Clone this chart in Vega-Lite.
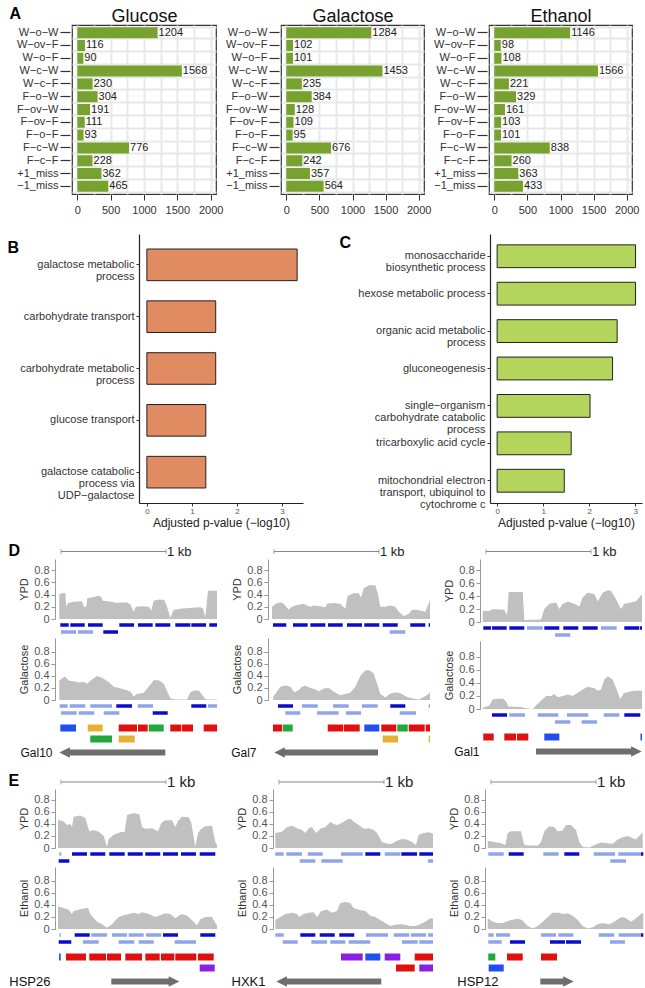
{
"$schema": "https://vega.github.io/schema/vega-lite/v6.json",
"padding": {"left": 6, "top": 4, "right": 0, "bottom": 0},
"config": {"font": "Liberation Sans", "view": {"stroke": "transparent"}, "axis": {"titleFontWeight": "normal"}, "title": {"fontWeight": "normal"}},
"datasets": {
"spacer": [{"v":0}],
"counts": [
{"medium":"Glucose","cls":"W−o−W","n":1204},{"medium":"Glucose","cls":"W−ov−F","n":116},{"medium":"Glucose","cls":"W−o−F","n":90},{"medium":"Glucose","cls":"W−c−W","n":1568},{"medium":"Glucose","cls":"W−c−F","n":230},{"medium":"Glucose","cls":"F−o−W","n":304},{"medium":"Glucose","cls":"F−ov−W","n":191},{"medium":"Glucose","cls":"F−ov−F","n":111},{"medium":"Glucose","cls":"F−o−F","n":93},{"medium":"Glucose","cls":"F−c−W","n":776},{"medium":"Glucose","cls":"F−c−F","n":228},{"medium":"Glucose","cls":"+1_miss","n":362},{"medium":"Glucose","cls":"−1_miss","n":465},
{"medium":"Galactose","cls":"W−o−W","n":1284},{"medium":"Galactose","cls":"W−ov−F","n":102},{"medium":"Galactose","cls":"W−o−F","n":101},{"medium":"Galactose","cls":"W−c−W","n":1453},{"medium":"Galactose","cls":"W−c−F","n":235},{"medium":"Galactose","cls":"F−o−W","n":384},{"medium":"Galactose","cls":"F−ov−W","n":128},{"medium":"Galactose","cls":"F−ov−F","n":109},{"medium":"Galactose","cls":"F−o−F","n":95},{"medium":"Galactose","cls":"F−c−W","n":676},{"medium":"Galactose","cls":"F−c−F","n":242},{"medium":"Galactose","cls":"+1_miss","n":357},{"medium":"Galactose","cls":"−1_miss","n":564},
{"medium":"Ethanol","cls":"W−o−W","n":1146},{"medium":"Ethanol","cls":"W−ov−F","n":98},{"medium":"Ethanol","cls":"W−o−F","n":108},{"medium":"Ethanol","cls":"W−c−W","n":1566},{"medium":"Ethanol","cls":"W−c−F","n":221},{"medium":"Ethanol","cls":"F−o−W","n":329},{"medium":"Ethanol","cls":"F−ov−W","n":161},{"medium":"Ethanol","cls":"F−ov−F","n":103},{"medium":"Ethanol","cls":"F−o−F","n":101},{"medium":"Ethanol","cls":"F−c−W","n":838},{"medium":"Ethanol","cls":"F−c−F","n":260},{"medium":"Ethanol","cls":"+1_miss","n":363},{"medium":"Ethanol","cls":"−1_miss","n":433}
],
"goB": [{"term":"galactose metabolic|process","p":3.34},{"term":"carbohydrate transport","p":1.53},{"term":"carbohydrate metabolic|process","p":1.53},{"term":"glucose transport","p":1.31},{"term":"galactose catabolic|process via|UDP−galactose","p":1.31}],
"goC": [{"term":"monosaccharide|biosynthetic process","p":3.01},{"term":"hexose metabolic process","p":3.01},{"term":"organic acid metabolic|process","p":2.61},{"term":"gluconeogenesis","p":2.51},{"term":"single−organism|carbohydrate catabolic|process","p":2.02},{"term":"tricarboxylic acid cycle","p":1.61},{"term":"mitochondrial electron|transport, ubiquinol to|cytochrome c","p":1.46}],
"scalebar": [{"s":60,"e":1110,"lab":"1 kb"}],
"cov_Gal10_YPD": [{"pos":43,"val":0.41},{"pos":103,"val":0.43},{"pos":113,"val":0.2},{"pos":130,"val":0.26},{"pos":187,"val":0.28},{"pos":270,"val":0.29},{"pos":290,"val":0.2},{"pos":313,"val":0.2},{"pos":323,"val":0.34},{"pos":387,"val":0.36},{"pos":437,"val":0.38},{"pos":463,"val":0.36},{"pos":477,"val":0.3},{"pos":537,"val":0.29},{"pos":620,"val":0.26},{"pos":643,"val":0.27},{"pos":720,"val":0.27},{"pos":753,"val":0.24},{"pos":787,"val":0.12},{"pos":810,"val":0.2},{"pos":870,"val":0.21},{"pos":937,"val":0.2},{"pos":963,"val":0.14},{"pos":987,"val":0.3},{"pos":1037,"val":0.32},{"pos":1093,"val":0.31},{"pos":1120,"val":0.2},{"pos":1153,"val":0.02},{"pos":1187,"val":0.15},{"pos":1270,"val":0.17},{"pos":1337,"val":0.18},{"pos":1453,"val":0.19},{"pos":1480,"val":0.17},{"pos":1503,"val":0.03},{"pos":1530,"val":0.46},{"pos":1620,"val":0.46}],
"cov_Gal10_Gal": [{"pos":43,"val":0.32},{"pos":70,"val":0.36},{"pos":103,"val":0.39},{"pos":137,"val":0.32},{"pos":187,"val":0.31},{"pos":237,"val":0.29},{"pos":287,"val":0.3},{"pos":320,"val":0.27},{"pos":370,"val":0.34},{"pos":420,"val":0.4},{"pos":470,"val":0.37},{"pos":537,"val":0.3},{"pos":587,"val":0.22},{"pos":637,"val":0.2},{"pos":703,"val":0.17},{"pos":753,"val":0.14},{"pos":787,"val":0.06},{"pos":820,"val":0.1},{"pos":887,"val":0.12},{"pos":937,"val":0.22},{"pos":987,"val":0.33},{"pos":1037,"val":0.33},{"pos":1087,"val":0.27},{"pos":1120,"val":0.15},{"pos":1153,"val":0.03},{"pos":1203,"val":0.01},{"pos":1320,"val":0.01},{"pos":1353,"val":0.13},{"pos":1397,"val":0.16},{"pos":1443,"val":0.15},{"pos":1477,"val":0.07},{"pos":1510,"val":0.01},{"pos":1620,"val":0.01}],
"cov_Gal7_YPD": [{"pos":40,"val":0.2},{"pos":90,"val":0.26},{"pos":140,"val":0.27},{"pos":173,"val":0.22},{"pos":207,"val":0.15},{"pos":240,"val":0.2},{"pos":290,"val":0.23},{"pos":357,"val":0.25},{"pos":390,"val":0.22},{"pos":423,"val":0.2},{"pos":457,"val":0.22},{"pos":523,"val":0.21},{"pos":573,"val":0.19},{"pos":590,"val":0.25},{"pos":657,"val":0.26},{"pos":723,"val":0.25},{"pos":750,"val":0.2},{"pos":773,"val":0.17},{"pos":797,"val":0.38},{"pos":857,"val":0.42},{"pos":907,"val":0.42},{"pos":930,"val":0.35},{"pos":957,"val":0.5},{"pos":1007,"val":0.55},{"pos":1073,"val":0.55},{"pos":1097,"val":0.42},{"pos":1123,"val":0.2},{"pos":1173,"val":0.2},{"pos":1223,"val":0.22},{"pos":1273,"val":0.2},{"pos":1307,"val":0.12},{"pos":1357,"val":0.05},{"pos":1407,"val":0.08},{"pos":1440,"val":0.15},{"pos":1490,"val":0.15},{"pos":1540,"val":0.13},{"pos":1573,"val":0.12},{"pos":1607,"val":0.25},{"pos":1620,"val":0.33}],
"cov_Gal7_Gal": [{"pos":50,"val":0.05},{"pos":73,"val":0.1},{"pos":123,"val":0.22},{"pos":173,"val":0.24},{"pos":223,"val":0.22},{"pos":263,"val":0.13},{"pos":307,"val":0.16},{"pos":340,"val":0.22},{"pos":373,"val":0.24},{"pos":423,"val":0.2},{"pos":473,"val":0.18},{"pos":507,"val":0.14},{"pos":557,"val":0.19},{"pos":607,"val":0.2},{"pos":657,"val":0.14},{"pos":723,"val":0.08},{"pos":773,"val":0.1},{"pos":823,"val":0.12},{"pos":873,"val":0.22},{"pos":923,"val":0.4},{"pos":973,"val":0.49},{"pos":1007,"val":0.5},{"pos":1057,"val":0.44},{"pos":1090,"val":0.28},{"pos":1123,"val":0.1},{"pos":1173,"val":0.04},{"pos":1223,"val":0.11},{"pos":1290,"val":0.13},{"pos":1340,"val":0.1},{"pos":1390,"val":0.05},{"pos":1457,"val":0.02},{"pos":1507,"val":0.01},{"pos":1557,"val":0.05},{"pos":1607,"val":0.1},{"pos":1620,"val":0.14}],
"cov_Gal1_YPD": [{"pos":27,"val":0.17},{"pos":93,"val":0.17},{"pos":127,"val":0.2},{"pos":243,"val":0.19},{"pos":270,"val":0.1},{"pos":287,"val":0.46},{"pos":427,"val":0.46},{"pos":443,"val":0.03},{"pos":610,"val":0.04},{"pos":643,"val":0.2},{"pos":693,"val":0.28},{"pos":760,"val":0.3},{"pos":793,"val":0.2},{"pos":827,"val":0.28},{"pos":877,"val":0.31},{"pos":943,"val":0.28},{"pos":993,"val":0.24},{"pos":1027,"val":0.38},{"pos":1077,"val":0.45},{"pos":1143,"val":0.43},{"pos":1177,"val":0.32},{"pos":1227,"val":0.45},{"pos":1277,"val":0.49},{"pos":1310,"val":0.48},{"pos":1360,"val":0.35},{"pos":1410,"val":0.2},{"pos":1443,"val":0.28},{"pos":1510,"val":0.3},{"pos":1560,"val":0.32},{"pos":1593,"val":0.38},{"pos":1610,"val":0.42},{"pos":1620,"val":0.4}],
"cov_Gal1_Gal": [{"pos":27,"val":0.02},{"pos":93,"val":0.05},{"pos":127,"val":0.15},{"pos":227,"val":0.16},{"pos":260,"val":0.12},{"pos":283,"val":0.04},{"pos":410,"val":0.03},{"pos":460,"val":0.01},{"pos":527,"val":0.0},{"pos":577,"val":0.08},{"pos":627,"val":0.15},{"pos":660,"val":0.2},{"pos":710,"val":0.2},{"pos":743,"val":0.23},{"pos":777,"val":0.18},{"pos":827,"val":0.2},{"pos":877,"val":0.22},{"pos":927,"val":0.2},{"pos":977,"val":0.25},{"pos":1027,"val":0.3},{"pos":1077,"val":0.34},{"pos":1110,"val":0.33},{"pos":1143,"val":0.32},{"pos":1177,"val":0.28},{"pos":1210,"val":0.3},{"pos":1243,"val":0.45},{"pos":1277,"val":0.5},{"pos":1327,"val":0.45},{"pos":1360,"val":0.32},{"pos":1403,"val":0.15},{"pos":1437,"val":0.24},{"pos":1510,"val":0.27},{"pos":1560,"val":0.28},{"pos":1620,"val":0.28}],
"cov_HSP26_YPD": [{"pos":30,"val":0.47},{"pos":87,"val":0.44},{"pos":120,"val":0.38},{"pos":153,"val":0.4},{"pos":170,"val":0.35},{"pos":187,"val":0.52},{"pos":253,"val":0.54},{"pos":303,"val":0.5},{"pos":343,"val":0.28},{"pos":387,"val":0.3},{"pos":437,"val":0.27},{"pos":487,"val":0.2},{"pos":520,"val":0.02},{"pos":537,"val":0.15},{"pos":587,"val":0.22},{"pos":653,"val":0.26},{"pos":697,"val":0.27},{"pos":720,"val":0.55},{"pos":787,"val":0.58},{"pos":843,"val":0.56},{"pos":870,"val":0.35},{"pos":903,"val":0.32},{"pos":970,"val":0.33},{"pos":1030,"val":0.28},{"pos":1063,"val":0.42},{"pos":1103,"val":0.46},{"pos":1170,"val":0.46},{"pos":1203,"val":0.35},{"pos":1230,"val":0.45},{"pos":1270,"val":0.52},{"pos":1337,"val":0.51},{"pos":1363,"val":0.42},{"pos":1403,"val":0.02},{"pos":1430,"val":0.25},{"pos":1463,"val":0.32},{"pos":1503,"val":0.36},{"pos":1570,"val":0.37},{"pos":1603,"val":0.1},{"pos":1620,"val":0.05}],
"cov_HSP26_Eth": [{"pos":30,"val":0.38},{"pos":87,"val":0.35},{"pos":137,"val":0.32},{"pos":170,"val":0.25},{"pos":187,"val":0.3},{"pos":237,"val":0.32},{"pos":287,"val":0.34},{"pos":330,"val":0.35},{"pos":353,"val":0.25},{"pos":420,"val":0.12},{"pos":470,"val":0.08},{"pos":520,"val":0.02},{"pos":570,"val":0.08},{"pos":637,"val":0.2},{"pos":687,"val":0.23},{"pos":737,"val":0.25},{"pos":787,"val":0.27},{"pos":837,"val":0.25},{"pos":870,"val":0.28},{"pos":937,"val":0.25},{"pos":1003,"val":0.2},{"pos":1053,"val":0.23},{"pos":1103,"val":0.26},{"pos":1153,"val":0.25},{"pos":1203,"val":0.18},{"pos":1237,"val":0.22},{"pos":1270,"val":0.25},{"pos":1320,"val":0.22},{"pos":1370,"val":0.15},{"pos":1420,"val":0.06},{"pos":1453,"val":0.16},{"pos":1503,"val":0.2},{"pos":1570,"val":0.2},{"pos":1620,"val":0.06}],
"cov_HXK1_YPD": [{"pos":23,"val":0.25},{"pos":90,"val":0.27},{"pos":140,"val":0.35},{"pos":190,"val":0.37},{"pos":240,"val":0.33},{"pos":290,"val":0.3},{"pos":323,"val":0.25},{"pos":357,"val":0.33},{"pos":390,"val":0.35},{"pos":430,"val":0.25},{"pos":473,"val":0.32},{"pos":523,"val":0.35},{"pos":573,"val":0.43},{"pos":607,"val":0.4},{"pos":640,"val":0.38},{"pos":690,"val":0.42},{"pos":740,"val":0.47},{"pos":773,"val":0.49},{"pos":807,"val":0.44},{"pos":857,"val":0.38},{"pos":907,"val":0.32},{"pos":957,"val":0.33},{"pos":1007,"val":0.3},{"pos":1040,"val":0.25},{"pos":1090,"val":0.1},{"pos":1140,"val":0.07},{"pos":1190,"val":0.07},{"pos":1240,"val":0.12},{"pos":1290,"val":0.15},{"pos":1340,"val":0.14},{"pos":1390,"val":0.1},{"pos":1430,"val":0.05},{"pos":1457,"val":0.22},{"pos":1507,"val":0.25},{"pos":1557,"val":0.26},{"pos":1600,"val":0.24}],
"cov_HXK1_Eth": [{"pos":23,"val":0.15},{"pos":73,"val":0.2},{"pos":123,"val":0.25},{"pos":190,"val":0.27},{"pos":240,"val":0.25},{"pos":263,"val":0.2},{"pos":307,"val":0.25},{"pos":357,"val":0.27},{"pos":407,"val":0.28},{"pos":440,"val":0.2},{"pos":483,"val":0.3},{"pos":540,"val":0.32},{"pos":590,"val":0.27},{"pos":640,"val":0.3},{"pos":673,"val":0.43},{"pos":723,"val":0.45},{"pos":773,"val":0.43},{"pos":807,"val":0.35},{"pos":857,"val":0.32},{"pos":923,"val":0.3},{"pos":973,"val":0.22},{"pos":1023,"val":0.2},{"pos":1073,"val":0.15},{"pos":1123,"val":0.1},{"pos":1173,"val":0.05},{"pos":1223,"val":0.07},{"pos":1273,"val":0.08},{"pos":1323,"val":0.07},{"pos":1373,"val":0.05},{"pos":1423,"val":0.05},{"pos":1473,"val":0.08},{"pos":1523,"val":0.12},{"pos":1573,"val":0.18},{"pos":1600,"val":0.17}],
"cov_HSP12_YPD": [{"pos":27,"val":0.12},{"pos":93,"val":0.1},{"pos":160,"val":0.08},{"pos":203,"val":0.05},{"pos":227,"val":0.25},{"pos":260,"val":0.28},{"pos":360,"val":0.28},{"pos":393,"val":0.05},{"pos":443,"val":0.04},{"pos":527,"val":0.04},{"pos":560,"val":0.1},{"pos":593,"val":0.28},{"pos":643,"val":0.36},{"pos":693,"val":0.35},{"pos":727,"val":0.28},{"pos":777,"val":0.29},{"pos":810,"val":0.38},{"pos":860,"val":0.38},{"pos":910,"val":0.3},{"pos":943,"val":0.1},{"pos":977,"val":0.02},{"pos":1043,"val":0.01},{"pos":1093,"val":0.05},{"pos":1160,"val":0.09},{"pos":1227,"val":0.08},{"pos":1277,"val":0.07},{"pos":1327,"val":0.14},{"pos":1377,"val":0.18},{"pos":1427,"val":0.2},{"pos":1477,"val":0.16},{"pos":1510,"val":0.14},{"pos":1543,"val":0.2},{"pos":1577,"val":0.26}],
"cov_HSP12_Eth": [{"pos":27,"val":0.18},{"pos":77,"val":0.12},{"pos":127,"val":0.1},{"pos":177,"val":0.1},{"pos":210,"val":0.12},{"pos":260,"val":0.15},{"pos":327,"val":0.17},{"pos":370,"val":0.15},{"pos":427,"val":0.05},{"pos":477,"val":0.01},{"pos":527,"val":0.05},{"pos":577,"val":0.12},{"pos":627,"val":0.2},{"pos":677,"val":0.27},{"pos":743,"val":0.27},{"pos":777,"val":0.25},{"pos":827,"val":0.26},{"pos":877,"val":0.22},{"pos":927,"val":0.15},{"pos":977,"val":0.05},{"pos":1027,"val":0.01},{"pos":1077,"val":0.03},{"pos":1127,"val":0.08},{"pos":1177,"val":0.1},{"pos":1243,"val":0.08},{"pos":1293,"val":0.12},{"pos":1343,"val":0.18},{"pos":1377,"val":0.2},{"pos":1410,"val":0.18},{"pos":1460,"val":0.12},{"pos":1510,"val":0.18},{"pos":1560,"val":0.25},{"pos":1583,"val":0.27}],
"nuc_Gal10_YPD": [{"lane":1,"s":53,"e":137,"kind":"dark"},{"lane":1,"s":153,"e":297,"kind":"dark"},{"lane":1,"s":330,"e":477,"kind":"dark"},{"lane":1,"s":643,"e":790,"kind":"dark"},{"lane":1,"s":830,"e":977,"kind":"dark"},{"lane":1,"s":1003,"e":1153,"kind":"dark"},{"lane":1,"s":1203,"e":1353,"kind":"dark"},{"lane":1,"s":1363,"e":1510,"kind":"dark"},{"lane":1,"s":1543,"e":1620,"kind":"dark"},{"lane":2,"s":60,"e":210,"kind":"light"},{"lane":2,"s":230,"e":380,"kind":"light"},{"lane":2,"s":483,"e":630,"kind":"dark"}],
"nuc_Gal10_Gal": [{"lane":1,"s":47,"e":127,"kind":"light"},{"lane":1,"s":147,"e":303,"kind":"light"},{"lane":1,"s":353,"e":570,"kind":"light"},{"lane":1,"s":613,"e":770,"kind":"dark"},{"lane":1,"s":827,"e":980,"kind":"light"},{"lane":1,"s":1363,"e":1513,"kind":"dark"},{"lane":1,"s":1530,"e":1620,"kind":"light"},{"lane":2,"s":60,"e":217,"kind":"light"},{"lane":2,"s":237,"e":393,"kind":"light"},{"lane":2,"s":487,"e":643,"kind":"light"},{"lane":2,"s":977,"e":1127,"kind":"dark"}],
"nuc_Gal7_YPD": [{"lane":1,"s":50,"e":183,"kind":"dark"},{"lane":1,"s":250,"e":397,"kind":"dark"},{"lane":1,"s":423,"e":573,"kind":"dark"},{"lane":1,"s":600,"e":747,"kind":"dark"},{"lane":1,"s":790,"e":940,"kind":"dark"},{"lane":1,"s":963,"e":1113,"kind":"dark"},{"lane":1,"s":1147,"e":1297,"kind":"dark"},{"lane":1,"s":1423,"e":1573,"kind":"dark"},{"lane":1,"s":1607,"e":1620,"kind":"dark"},{"lane":2,"s":1217,"e":1373,"kind":"light"}],
"nuc_Gal7_Gal": [{"lane":1,"s":100,"e":250,"kind":"dark"},{"lane":1,"s":340,"e":497,"kind":"light"},{"lane":1,"s":650,"e":807,"kind":"light"},{"lane":1,"s":940,"e":1097,"kind":"light"},{"lane":1,"s":1223,"e":1373,"kind":"dark"},{"lane":1,"s":1607,"e":1620,"kind":"light"},{"lane":2,"s":173,"e":323,"kind":"light"},{"lane":2,"s":490,"e":707,"kind":"light"},{"lane":2,"s":780,"e":930,"kind":"light"},{"lane":2,"s":1317,"e":1480,"kind":"light"}],
"nuc_Gal1_YPD": [{"lane":1,"s":33,"e":110,"kind":"dark"},{"lane":1,"s":120,"e":267,"kind":"dark"},{"lane":1,"s":293,"e":443,"kind":"dark"},{"lane":1,"s":470,"e":627,"kind":"light"},{"lane":1,"s":643,"e":793,"kind":"dark"},{"lane":1,"s":833,"e":983,"kind":"dark"},{"lane":1,"s":1027,"e":1177,"kind":"dark"},{"lane":1,"s":1210,"e":1367,"kind":"light"},{"lane":1,"s":1443,"e":1593,"kind":"dark"},{"lane":1,"s":1600,"e":1620,"kind":"dark"},{"lane":2,"s":750,"e":903,"kind":"light"}],
"nuc_Gal1_Gal": [{"lane":1,"s":120,"e":270,"kind":"dark"},{"lane":1,"s":293,"e":450,"kind":"light"},{"lane":1,"s":577,"e":783,"kind":"light"},{"lane":1,"s":870,"e":1083,"kind":"light"},{"lane":1,"s":1237,"e":1393,"kind":"light"},{"lane":1,"s":1443,"e":1603,"kind":"dark"},{"lane":2,"s":750,"e":903,"kind":"light"},{"lane":2,"s":1017,"e":1170,"kind":"light"}],
"nuc_HSP26_YPD": [{"lane":1,"s":43,"e":63,"kind":"light"},{"lane":1,"s":170,"e":320,"kind":"dark"},{"lane":1,"s":353,"e":503,"kind":"dark"},{"lane":1,"s":543,"e":697,"kind":"dark"},{"lane":1,"s":727,"e":877,"kind":"dark"},{"lane":1,"s":903,"e":1053,"kind":"dark"},{"lane":1,"s":1080,"e":1230,"kind":"dark"},{"lane":1,"s":1260,"e":1410,"kind":"dark"},{"lane":1,"s":1447,"e":1603,"kind":"dark"},{"lane":2,"s":37,"e":143,"kind":"dark"}],
"nuc_HSP26_Eth": [{"lane":1,"s":43,"e":57,"kind":"light"},{"lane":1,"s":197,"e":347,"kind":"dark"},{"lane":1,"s":363,"e":520,"kind":"light"},{"lane":1,"s":570,"e":720,"kind":"light"},{"lane":1,"s":737,"e":887,"kind":"light"},{"lane":1,"s":910,"e":1063,"kind":"light"},{"lane":1,"s":1080,"e":1230,"kind":"dark"},{"lane":1,"s":1453,"e":1603,"kind":"dark"},{"lane":2,"s":37,"e":163,"kind":"dark"},{"lane":2,"s":280,"e":437,"kind":"light"},{"lane":2,"s":637,"e":793,"kind":"light"},{"lane":2,"s":837,"e":987,"kind":"light"},{"lane":2,"s":1197,"e":1410,"kind":"light"}],
"nuc_HXK1_YPD": [{"lane":1,"s":23,"e":107,"kind":"light"},{"lane":1,"s":133,"e":290,"kind":"light"},{"lane":1,"s":347,"e":497,"kind":"light"},{"lane":1,"s":680,"e":897,"kind":"light"},{"lane":1,"s":923,"e":1073,"kind":"dark"},{"lane":1,"s":1117,"e":1273,"kind":"light"},{"lane":1,"s":1283,"e":1440,"kind":"dark"},{"lane":1,"s":1463,"e":1600,"kind":"dark"},{"lane":2,"s":267,"e":423,"kind":"light"},{"lane":2,"s":483,"e":697,"kind":"light"},{"lane":2,"s":1550,"e":1600,"kind":"light"}],
"nuc_HXK1_Eth": [{"lane":1,"s":23,"e":107,"kind":"light"},{"lane":1,"s":273,"e":423,"kind":"dark"},{"lane":1,"s":467,"e":617,"kind":"dark"},{"lane":1,"s":663,"e":813,"kind":"dark"},{"lane":1,"s":930,"e":1150,"kind":"light"},{"lane":1,"s":1207,"e":1363,"kind":"light"},{"lane":1,"s":1380,"e":1530,"kind":"light"},{"lane":1,"s":1550,"e":1600,"kind":"light"},{"lane":2,"s":97,"e":247,"kind":"light"},{"lane":2,"s":383,"e":540,"kind":"light"},{"lane":2,"s":573,"e":723,"kind":"light"},{"lane":2,"s":757,"e":973,"kind":"light"},{"lane":2,"s":1290,"e":1447,"kind":"light"},{"lane":2,"s":1463,"e":1600,"kind":"light"}],
"nuc_HSP12_YPD": [{"lane":1,"s":33,"e":187,"kind":"light"},{"lane":1,"s":237,"e":387,"kind":"dark"},{"lane":1,"s":583,"e":737,"kind":"light"},{"lane":1,"s":793,"e":943,"kind":"dark"},{"lane":1,"s":1087,"e":1300,"kind":"light"},{"lane":1,"s":1333,"e":1560,"kind":"light"},{"lane":1,"s":1560,"e":1583,"kind":"dark"},{"lane":2,"s":1253,"e":1410,"kind":"light"}],
"nuc_HSP12_Eth": [{"lane":1,"s":33,"e":87,"kind":"light"},{"lane":1,"s":110,"e":250,"kind":"light"},{"lane":1,"s":560,"e":710,"kind":"light"},{"lane":1,"s":733,"e":883,"kind":"light"},{"lane":1,"s":1137,"e":1293,"kind":"light"},{"lane":1,"s":1337,"e":1560,"kind":"light"},{"lane":1,"s":1560,"e":1583,"kind":"dark"},{"lane":2,"s":33,"e":167,"kind":"light"},{"lane":2,"s":250,"e":400,"kind":"dark"},{"lane":2,"s":650,"e":800,"kind":"dark"},{"lane":2,"s":810,"e":960,"kind":"dark"},{"lane":2,"s":1250,"e":1400,"kind":"light"}],
"feat_Gal10": [{"lane":1,"s":53,"e":210,"kind":"blue"},{"lane":1,"s":327,"e":477,"kind":"orange"},{"lane":1,"s":637,"e":820,"kind":"red"},{"lane":1,"s":830,"e":927,"kind":"red"},{"lane":1,"s":937,"e":1087,"kind":"green"},{"lane":1,"s":1153,"e":1263,"kind":"red"},{"lane":1,"s":1270,"e":1380,"kind":"red"},{"lane":1,"s":1487,"e":1620,"kind":"red"},{"lane":2,"s":353,"e":570,"kind":"green"},{"lane":2,"s":637,"e":797,"kind":"orange"}],
"feat_Gal7": [{"lane":1,"s":50,"e":140,"kind":"red"},{"lane":1,"s":147,"e":247,"kind":"green"},{"lane":1,"s":597,"e":750,"kind":"red"},{"lane":1,"s":757,"e":917,"kind":"red"},{"lane":1,"s":963,"e":1113,"kind":"blue"},{"lane":1,"s":1133,"e":1283,"kind":"red"},{"lane":1,"s":1293,"e":1397,"kind":"green"},{"lane":1,"s":1407,"e":1567,"kind":"red"},{"lane":1,"s":1577,"e":1620,"kind":"red"},{"lane":2,"s":1147,"e":1300,"kind":"orange"},{"lane":2,"s":1607,"e":1620,"kind":"orange"}],
"feat_Gal1": [{"lane":1,"s":33,"e":137,"kind":"red"},{"lane":1,"s":243,"e":360,"kind":"red"},{"lane":1,"s":370,"e":483,"kind":"red"},{"lane":1,"s":643,"e":793,"kind":"blue"},{"lane":1,"s":1605,"e":1620,"kind":"blue"}],
"feat_HSP26": [{"lane":1,"s":40,"e":57,"kind":"blue"},{"lane":1,"s":110,"e":310,"kind":"red"},{"lane":1,"s":343,"e":510,"kind":"red"},{"lane":1,"s":520,"e":660,"kind":"red"},{"lane":1,"s":703,"e":870,"kind":"red"},{"lane":1,"s":903,"e":1047,"kind":"red"},{"lane":1,"s":1060,"e":1193,"kind":"red"},{"lane":1,"s":1203,"e":1413,"kind":"red"},{"lane":1,"s":1430,"e":1587,"kind":"red"},{"lane":2,"s":1447,"e":1597,"kind":"purple"}],
"feat_HXK1": [{"lane":1,"s":680,"e":897,"kind":"purple"},{"lane":1,"s":923,"e":1073,"kind":"blue"},{"lane":1,"s":1117,"e":1273,"kind":"purple"},{"lane":1,"s":1417,"e":1600,"kind":"red"},{"lane":2,"s":1230,"e":1417,"kind":"red"},{"lane":2,"s":1463,"e":1600,"kind":"purple"}],
"feat_HSP12": [{"lane":1,"s":33,"e":103,"kind":"green"},{"lane":1,"s":220,"e":377,"kind":"red"},{"lane":1,"s":560,"e":720,"kind":"red"},{"lane":2,"s":37,"e":187,"kind":"blue"}],
"gene_Gal10": [{"s":133,"e":1103,"tip":43}],
"gene_Gal7": [{"s":153,"e":1100,"tip":63}],
"gene_Gal1": [{"s":560,"e":1527,"tip":1617}],
"gene_HSP26": [{"s":563,"e":1153,"tip":1243}],
"gene_HXK1": [{"s":123,"e":1083,"tip":33}],
"gene_HSP12": [{"s":553,"e":797,"tip":887}]
},
"concat": [
{"concat": [
{"hconcat": [
{"width":1,"height":1,"data":{"name":"spacer"},"mark":{"type":"rect","opacity":0}},
{"width":144,"height":169,"view":{"stroke":"#333","strokeWidth":1.2},
"data":{"name":"counts"},"transform":[{"filter":"datum.medium=='Glucose'"}],
"layer":[
{"mark":{"type":"bar","color":"#78a22f"},"encoding":{
"y":{"field":"cls","type":"nominal","sort":null,"scale":{"paddingInner":0.14,"paddingOuter":0.17},"axis":{"title":"A","titleAngle":0,"titleAlign":"left","titleBaseline":"middle","titleX":-61,"titleY":-11.5,"titleFontSize":16,"titleFontWeight":"bold","titleColor":"#000","labelFontSize":11,"labelColor":"#333","tickSize":10,"tickColor":"#333","tickWidth":1.2,"labelPadding":2,"offset":2,"domain":false,"grid":false}},
"x":{"field":"n","type":"quantitative","scale":{"domain":[-80,2080],"nice":false,"zero":false},"axis":{"title":null,"values":[0,250,500,750,1000,1250,1500,1750,2000],"format":"d","labelExpr":"datum.value % 500 === 0 ? datum.label : ''","tickOpacity":{"condition":{"test":"datum.value % 500 === 0","value":1},"value":0},"grid":true,"gridColor":"#e8e8e8","gridWidth":2,"tickSize":6,"tickColor":"#333","labelFontSize":11,"labelColor":"#333","labelPadding":4,"domain":false}}}},
{"mark":{"type":"text","align":"left","baseline":"middle","dx":1,"fontSize":11,"color":"#222"},"encoding":{
"y":{"field":"cls","type":"nominal","sort":null,"axis":{"orient":"right","tickBand":"extent","grid":true,"gridColor":"#e8e8e8","gridWidth":2,"labels":false,"ticks":false,"domain":false,"title":null}},
"x":{"field":"n","type":"quantitative","axis":{"orient":"top","title":"Glucose","titleFontSize":18,"titleColor":"#111","titleBaseline":"alphabetic","titlePadding":4,"labels":false,"ticks":false,"domain":false,"grid":false}},
"text":{"field":"n","format":"d"}}}
],
"resolve":{"axis":{"x":"independent","y":"independent"}}},
{"width":143,"height":169,"view":{"stroke":"#333","strokeWidth":1.2},
"data":{"name":"counts"},"transform":[{"filter":"datum.medium=='Galactose'"}],
"layer":[
{"mark":{"type":"bar","color":"#78a22f"},"encoding":{
"y":{"field":"cls","type":"nominal","sort":null,"scale":{"paddingInner":0.14,"paddingOuter":0.17},"axis":{"title":null,"labelFontSize":11,"labelColor":"#333","tickSize":10,"tickColor":"#333","tickWidth":1.2,"labelPadding":2,"offset":2,"domain":false,"grid":false}},
"x":{"field":"n","type":"quantitative","scale":{"domain":[-80,2080],"nice":false,"zero":false},"axis":{"title":null,"values":[0,250,500,750,1000,1250,1500,1750,2000],"format":"d","labelExpr":"datum.value % 500 === 0 ? datum.label : ''","tickOpacity":{"condition":{"test":"datum.value % 500 === 0","value":1},"value":0},"grid":true,"gridColor":"#e8e8e8","gridWidth":2,"tickSize":6,"tickColor":"#333","labelFontSize":11,"labelColor":"#333","labelPadding":4,"domain":false}}}},
{"mark":{"type":"text","align":"left","baseline":"middle","dx":1,"fontSize":11,"color":"#222"},"encoding":{
"y":{"field":"cls","type":"nominal","sort":null,"axis":{"orient":"right","tickBand":"extent","grid":true,"gridColor":"#e8e8e8","gridWidth":2,"labels":false,"ticks":false,"domain":false,"title":null}},
"x":{"field":"n","type":"quantitative","axis":{"orient":"top","title":"Galactose","titleFontSize":18,"titleColor":"#111","titleBaseline":"alphabetic","titlePadding":4,"labels":false,"ticks":false,"domain":false,"grid":false}},
"text":{"field":"n","format":"d"}}}
],
"resolve":{"axis":{"x":"independent","y":"independent"}}},
{"width":143,"height":169,"view":{"stroke":"#333","strokeWidth":1.2},
"data":{"name":"counts"},"transform":[{"filter":"datum.medium=='Ethanol'"}],
"layer":[
{"mark":{"type":"bar","color":"#78a22f"},"encoding":{
"y":{"field":"cls","type":"nominal","sort":null,"scale":{"paddingInner":0.14,"paddingOuter":0.17},"axis":{"title":null,"labelFontSize":11,"labelColor":"#333","tickSize":10,"tickColor":"#333","tickWidth":1.2,"labelPadding":2,"offset":2,"domain":false,"grid":false}},
"x":{"field":"n","type":"quantitative","scale":{"domain":[-80,2080],"nice":false,"zero":false},"axis":{"title":null,"values":[0,250,500,750,1000,1250,1500,1750,2000],"format":"d","labelExpr":"datum.value % 500 === 0 ? datum.label : ''","tickOpacity":{"condition":{"test":"datum.value % 500 === 0","value":1},"value":0},"grid":true,"gridColor":"#e8e8e8","gridWidth":2,"tickSize":6,"tickColor":"#333","labelFontSize":11,"labelColor":"#333","labelPadding":4,"domain":false}}}},
{"mark":{"type":"text","align":"left","baseline":"middle","dx":1,"fontSize":11,"color":"#222"},"encoding":{
"y":{"field":"cls","type":"nominal","sort":null,"axis":{"orient":"right","tickBand":"extent","grid":true,"gridColor":"#e8e8e8","gridWidth":2,"labels":false,"ticks":false,"domain":false,"title":null}},
"x":{"field":"n","type":"quantitative","axis":{"orient":"top","title":"Ethanol","titleFontSize":18,"titleColor":"#111","titleBaseline":"alphabetic","titlePadding":4,"labels":false,"ticks":false,"domain":false,"grid":false}},
"text":{"field":"n","format":"d"}}}
],
"resolve":{"axis":{"x":"independent","y":"independent"}}}
], "spacing": 65, "bounds": "flush"},
{"hconcat": [
{"hconcat": [
{"width":1,"height":1,"data":{"name":"spacer"},"mark":{"type":"rect","opacity":0}},
{"width":164,"height":269,"data":{"name":"goB"},
"mark":{"type":"bar","fill":"#e08b62","stroke":"#222","strokeWidth":1},
"encoding":{
"y":{"field":"term","type":"nominal","sort":null,"scale":{"paddingInner":0.39,"paddingOuter":0.29},"axis":{"title":"B","titleAngle":0,"titleAlign":"left","titleBaseline":"middle","titleX":-132,"titleY":13.5,"titleFontSize":16,"titleFontWeight":"bold","titleColor":"#000","labelExpr":"split(datum.label,'|')","labelFontSize":11,"labelColor":"#333","labelLineHeight":12,"tickSize":3,"tickColor":"#333","domainColor":"#222","domainWidth":1.2,"labelPadding":2,"grid":false}},
"x":{"field":"p","type":"quantitative","scale":{"domain":[-0.175,3.47],"nice":false,"zero":false},"axis":{"title":"Adjusted p-value (−log10)","values":[0,1,2,3],"labelFontSize":8,"labelColor":"#555","tickSize":3,"tickColor":"#333","domainColor":"#222","domainWidth":1.2,"titleFontSize":12,"titleColor":"#222","titlePadding":2,"labelPadding":1,"grid":false}}}}
], "spacing": 132, "bounds": "flush"},
{"width":152,"height":269,"data":{"name":"goC"},
"mark":{"type":"bar","fill":"#b4d55b","stroke":"#222","strokeWidth":1},
"encoding":{
"y":{"field":"term","type":"nominal","sort":null,"scale":{"paddingInner":0.39,"paddingOuter":0.29},"axis":{"title":"C","titleAngle":0,"titleAlign":"left","titleBaseline":"middle","titleX":-151,"titleY":8.7,"titleFontSize":16,"titleFontWeight":"bold","titleColor":"#000","labelExpr":"split(datum.label,'|')","labelFontSize":11,"labelColor":"#333","labelLineHeight":12,"tickSize":3,"tickColor":"#333","domainColor":"#222","domainWidth":1.2,"labelPadding":2,"grid":false}},
"x":{"field":"p","type":"quantitative","scale":{"domain":[-0.155,3.15],"nice":false,"zero":false},"axis":{"title":"Adjusted p-value (−log10)","values":[0,1,2,3],"labelFontSize":8,"labelColor":"#555","tickSize":3,"tickColor":"#333","domainColor":"#222","domainWidth":1.2,"titleFontSize":12,"titleColor":"#222","titlePadding":2,"labelPadding":1,"grid":false}}}}
], "spacing": 34}
], "columns": 1, "align": "none", "spacing": 17},
{"hconcat": [
{"width":1,"height":1,"data":{"name":"spacer"},"mark":{"type":"rect","opacity":0}},
{"hconcat": [
{"vconcat": [
{"width":162,"height":15,"data":{"name":"scalebar"},"encoding":{"y":{"datum":0,"type":"quantitative","scale":{"domain":[-1,1]},"axis":{"title":"D","titleAngle":0,"titleAlign":"left","titleBaseline":"middle","titleX":-47,"titleY":6,"titleFontSize":16,"titleFontWeight":"bold","titleColor":"#000","domain":false,"ticks":false,"labels":false,"grid":false}}},"layer":[
{"mark":{"type":"rule","color":"#888","strokeWidth":1},"encoding":{"x":{"field":"s","type":"quantitative","scale":{"domain":[0,1620]},"axis":null},"x2":{"field":"e"}}},
{"mark":{"type":"tick","orient":"vertical","size":5,"thickness":1,"color":"#888"},"encoding":{"x":{"field":"s","type":"quantitative","scale":{"domain":[0,1620]},"axis":null}}},
{"mark":{"type":"tick","orient":"vertical","size":5,"thickness":1,"color":"#888"},"encoding":{"x":{"field":"e","type":"quantitative","scale":{"domain":[0,1620]},"axis":null}}},
{"mark":{"type":"text","align":"left","baseline":"middle","dx":1,"fontSize":13,"color":"#222"},"encoding":{"x":{"field":"e","type":"quantitative","scale":{"domain":[0,1620]},"axis":null},"text":{"field":"lab"}}}]},
{"width":162,"height":60,"data":{"name":"cov_Gal10_YPD"},"mark":{"type":"area","color":"#c0c0c0"},"encoding":{"x":{"field":"pos","type":"quantitative","scale":{"domain":[0,1620]},"axis":null},"y":{"field":"val","type":"quantitative","scale":{"domain":[0,0.98]},"axis":{"title":"YPD","titleFontSize":11,"titleColor":"#333","titlePadding":4,"values":[0,0.2,0.4,0.6,0.8],"format":"~g","labelFontSize":11,"labelColor":"#555","tickColor":"#999","tickSize":4,"domainColor":"#999","grid":false,"labelPadding":2}}}},
{"width":162,"height":19,"data":{"name":"nuc_Gal10_YPD"},"mark":"bar","encoding":{"x":{"field":"s","type":"quantitative","scale":{"domain":[0,1620]},"axis":null},"x2":{"field":"e"},"y":{"field":"lane","type":"ordinal","scale":{"domain":[1,2],"paddingInner":0.5,"paddingOuter":0.607},"axis":null},"color":{"field":"kind","type":"nominal","scale":{"domain":["dark","light"],"range":["#0b0bcc","#8fa5e8"]},"legend":null}}},
{"width":162,"height":62,"data":{"name":"cov_Gal10_Gal"},"mark":{"type":"area","color":"#c0c0c0"},"encoding":{"x":{"field":"pos","type":"quantitative","scale":{"domain":[0,1620]},"axis":null},"y":{"field":"val","type":"quantitative","scale":{"domain":[0,1.03]},"axis":{"title":"Galactose","titleFontSize":11,"titleColor":"#333","titlePadding":4,"values":[0,0.2,0.4,0.6,0.8],"format":"~g","labelFontSize":11,"labelColor":"#555","tickColor":"#999","tickSize":4,"domainColor":"#999","grid":false,"labelPadding":2}}}},
{"width":162,"height":19,"data":{"name":"nuc_Gal10_Gal"},"mark":"bar","encoding":{"x":{"field":"s","type":"quantitative","scale":{"domain":[0,1620]},"axis":null},"x2":{"field":"e"},"y":{"field":"lane","type":"ordinal","scale":{"domain":[1,2],"paddingInner":0.5,"paddingOuter":0.607},"axis":null},"color":{"field":"kind","type":"nominal","scale":{"domain":["dark","light"],"range":["#0b0bcc","#8fa5e8"]},"legend":null}}},
{"width":162,"height":29,"data":{"name":"feat_Gal10"},"mark":"bar","encoding":{"x":{"field":"s","type":"quantitative","scale":{"domain":[0,1620]},"axis":null},"x2":{"field":"e"},"y":{"field":"lane","type":"ordinal","scale":{"domain":[1,2],"paddingInner":0.364,"paddingOuter":0.5},"axis":null},"color":{"field":"kind","type":"nominal","scale":{"domain":["blue","red","green","orange","purple"],"range":["#1f4ff0","#e01010","#22a83a","#e8b030","#8a20e0"]},"legend":null}}},
{"width":162,"height":9,"data":{"name":"gene_Gal10"},"encoding":{"y":{"datum":0,"type":"quantitative","scale":{"domain":[-1,1]},"axis":{"title":"Gal10","titleAngle":0,"titleAlign":"right","titleBaseline":"middle","titleX":-3,"titleY":4.5,"titleFontSize":12,"titleFontWeight":"normal","titleColor":"#111","domain":false,"ticks":false,"labels":false,"grid":false}}},"layer":[
{"mark":{"type":"rule","color":"#6e6e6e","strokeWidth":6,"strokeCap":"butt"},"encoding":{"x":{"field":"s","type":"quantitative","scale":{"domain":[0,1620]},"axis":null},"x2":{"field":"e"}}},
{"mark":{"type":"point","shape":"M0,0L2,-1L2,1Z","filled":true,"size":112,"color":"#6e6e6e","opacity":1},"encoding":{"x":{"field":"tip","type":"quantitative","scale":{"domain":[0,1620]},"axis":null}}}]}
], "spacing": 0, "bounds": "flush", "resolve": {"scale": {"color": "independent"}}},
{"vconcat": [
{"width":162,"height":15,"data":{"name":"scalebar"},"encoding":{"y":{"datum":0,"type":"quantitative","scale":{"domain":[-1,1]},"axis":null}},"layer":[
{"mark":{"type":"rule","color":"#888","strokeWidth":1},"encoding":{"x":{"field":"s","type":"quantitative","scale":{"domain":[0,1620]},"axis":null},"x2":{"field":"e"}}},
{"mark":{"type":"tick","orient":"vertical","size":5,"thickness":1,"color":"#888"},"encoding":{"x":{"field":"s","type":"quantitative","scale":{"domain":[0,1620]},"axis":null}}},
{"mark":{"type":"tick","orient":"vertical","size":5,"thickness":1,"color":"#888"},"encoding":{"x":{"field":"e","type":"quantitative","scale":{"domain":[0,1620]},"axis":null}}},
{"mark":{"type":"text","align":"left","baseline":"middle","dx":1,"fontSize":13,"color":"#222"},"encoding":{"x":{"field":"e","type":"quantitative","scale":{"domain":[0,1620]},"axis":null},"text":{"field":"lab"}}}]},
{"width":162,"height":60,"data":{"name":"cov_Gal7_YPD"},"mark":{"type":"area","color":"#c0c0c0"},"encoding":{"x":{"field":"pos","type":"quantitative","scale":{"domain":[0,1620]},"axis":null},"y":{"field":"val","type":"quantitative","scale":{"domain":[0,0.98]},"axis":{"title":"YPD","titleFontSize":11,"titleColor":"#333","titlePadding":4,"values":[0,0.2,0.4,0.6,0.8],"format":"~g","labelFontSize":11,"labelColor":"#555","tickColor":"#999","tickSize":4,"domainColor":"#999","grid":false,"labelPadding":2}}}},
{"width":162,"height":19,"data":{"name":"nuc_Gal7_YPD"},"mark":"bar","encoding":{"x":{"field":"s","type":"quantitative","scale":{"domain":[0,1620]},"axis":null},"x2":{"field":"e"},"y":{"field":"lane","type":"ordinal","scale":{"domain":[1,2],"paddingInner":0.5,"paddingOuter":0.607},"axis":null},"color":{"field":"kind","type":"nominal","scale":{"domain":["dark","light"],"range":["#0b0bcc","#8fa5e8"]},"legend":null}}},
{"width":162,"height":62,"data":{"name":"cov_Gal7_Gal"},"mark":{"type":"area","color":"#c0c0c0"},"encoding":{"x":{"field":"pos","type":"quantitative","scale":{"domain":[0,1620]},"axis":null},"y":{"field":"val","type":"quantitative","scale":{"domain":[0,1.03]},"axis":{"title":"Galactose","titleFontSize":11,"titleColor":"#333","titlePadding":4,"values":[0,0.2,0.4,0.6,0.8],"format":"~g","labelFontSize":11,"labelColor":"#555","tickColor":"#999","tickSize":4,"domainColor":"#999","grid":false,"labelPadding":2}}}},
{"width":162,"height":19,"data":{"name":"nuc_Gal7_Gal"},"mark":"bar","encoding":{"x":{"field":"s","type":"quantitative","scale":{"domain":[0,1620]},"axis":null},"x2":{"field":"e"},"y":{"field":"lane","type":"ordinal","scale":{"domain":[1,2],"paddingInner":0.5,"paddingOuter":0.607},"axis":null},"color":{"field":"kind","type":"nominal","scale":{"domain":["dark","light"],"range":["#0b0bcc","#8fa5e8"]},"legend":null}}},
{"width":162,"height":29,"data":{"name":"feat_Gal7"},"mark":"bar","encoding":{"x":{"field":"s","type":"quantitative","scale":{"domain":[0,1620]},"axis":null},"x2":{"field":"e"},"y":{"field":"lane","type":"ordinal","scale":{"domain":[1,2],"paddingInner":0.364,"paddingOuter":0.5},"axis":null},"color":{"field":"kind","type":"nominal","scale":{"domain":["blue","red","green","orange","purple"],"range":["#1f4ff0","#e01010","#22a83a","#e8b030","#8a20e0"]},"legend":null}}},
{"width":162,"height":9,"data":{"name":"gene_Gal7"},"encoding":{"y":{"datum":0,"type":"quantitative","scale":{"domain":[-1,1]},"axis":{"title":"Gal7","titleAngle":0,"titleAlign":"right","titleBaseline":"middle","titleX":-12,"titleY":4.5,"titleFontSize":12,"titleFontWeight":"normal","titleColor":"#111","domain":false,"ticks":false,"labels":false,"grid":false}}},"layer":[
{"mark":{"type":"rule","color":"#6e6e6e","strokeWidth":6,"strokeCap":"butt"},"encoding":{"x":{"field":"s","type":"quantitative","scale":{"domain":[0,1620]},"axis":null},"x2":{"field":"e"}}},
{"mark":{"type":"point","shape":"M0,0L2,-1L2,1Z","filled":true,"size":112,"color":"#6e6e6e","opacity":1},"encoding":{"x":{"field":"tip","type":"quantitative","scale":{"domain":[0,1620]},"axis":null}}}]}
], "spacing": 0, "bounds": "flush", "resolve": {"scale": {"color": "independent"}}},
{"vconcat": [
{"width":162,"height":15,"data":{"name":"scalebar"},"encoding":{"y":{"datum":0,"type":"quantitative","scale":{"domain":[-1,1]},"axis":null}},"layer":[
{"mark":{"type":"rule","color":"#888","strokeWidth":1},"encoding":{"x":{"field":"s","type":"quantitative","scale":{"domain":[0,1620]},"axis":null},"x2":{"field":"e"}}},
{"mark":{"type":"tick","orient":"vertical","size":5,"thickness":1,"color":"#888"},"encoding":{"x":{"field":"s","type":"quantitative","scale":{"domain":[0,1620]},"axis":null}}},
{"mark":{"type":"tick","orient":"vertical","size":5,"thickness":1,"color":"#888"},"encoding":{"x":{"field":"e","type":"quantitative","scale":{"domain":[0,1620]},"axis":null}}},
{"mark":{"type":"text","align":"left","baseline":"middle","dx":1,"fontSize":13,"color":"#222"},"encoding":{"x":{"field":"e","type":"quantitative","scale":{"domain":[0,1620]},"axis":null},"text":{"field":"lab"}}}]},
{"width":162,"height":63,"data":{"name":"cov_Gal1_YPD"},"mark":{"type":"area","color":"#c0c0c0"},"encoding":{"x":{"field":"pos","type":"quantitative","scale":{"domain":[0,1620]},"axis":null},"y":{"field":"val","type":"quantitative","scale":{"domain":[0,0.97]},"axis":{"title":"YPD","titleFontSize":11,"titleColor":"#333","titlePadding":4,"values":[0,0.2,0.4,0.6,0.8],"format":"~g","labelFontSize":11,"labelColor":"#555","tickColor":"#999","tickSize":4,"domainColor":"#999","grid":false,"labelPadding":2}}}},
{"width":162,"height":19,"data":{"name":"nuc_Gal1_YPD"},"mark":"bar","encoding":{"x":{"field":"s","type":"quantitative","scale":{"domain":[0,1620]},"axis":null},"x2":{"field":"e"},"y":{"field":"lane","type":"ordinal","scale":{"domain":[1,2],"paddingInner":0.5,"paddingOuter":0.607},"axis":null},"color":{"field":"kind","type":"nominal","scale":{"domain":["dark","light"],"range":["#0b0bcc","#8fa5e8"]},"legend":null}}},
{"width":162,"height":68,"data":{"name":"cov_Gal1_Gal"},"mark":{"type":"area","color":"#c0c0c0"},"encoding":{"x":{"field":"pos","type":"quantitative","scale":{"domain":[0,1620]},"axis":null},"y":{"field":"val","type":"quantitative","scale":{"domain":[0,1.04]},"axis":{"title":"Galactose","titleFontSize":11,"titleColor":"#333","titlePadding":4,"values":[0,0.2,0.4,0.6,0.8],"format":"~g","labelFontSize":11,"labelColor":"#555","tickColor":"#999","tickSize":4,"domainColor":"#999","grid":false,"labelPadding":2}}}},
{"width":162,"height":19,"data":{"name":"nuc_Gal1_Gal"},"mark":"bar","encoding":{"x":{"field":"s","type":"quantitative","scale":{"domain":[0,1620]},"axis":null},"x2":{"field":"e"},"y":{"field":"lane","type":"ordinal","scale":{"domain":[1,2],"paddingInner":0.5,"paddingOuter":0.607},"axis":null},"color":{"field":"kind","type":"nominal","scale":{"domain":["dark","light"],"range":["#0b0bcc","#8fa5e8"]},"legend":null}}},
{"width":162,"height":18,"data":{"name":"feat_Gal1"},"mark":"bar","encoding":{"x":{"field":"s","type":"quantitative","scale":{"domain":[0,1620]},"axis":null},"x2":{"field":"e"},"y":{"field":"lane","type":"ordinal","scale":{"domain":[1],"paddingInner":0,"paddingOuter":0.79},"axis":null},"color":{"field":"kind","type":"nominal","scale":{"domain":["blue","red","green","orange","purple"],"range":["#1f4ff0","#e01010","#22a83a","#e8b030","#8a20e0"]},"legend":null}}},
{"width":162,"height":11,"data":{"name":"gene_Gal1"},"encoding":{"y":{"datum":0,"type":"quantitative","scale":{"domain":[-1,1]},"axis":{"title":"Gal1","titleAngle":0,"titleAlign":"right","titleBaseline":"middle","titleX":-1,"titleY":5.5,"titleFontSize":12,"titleFontWeight":"normal","titleColor":"#111","domain":false,"ticks":false,"labels":false,"grid":false}}},"layer":[
{"mark":{"type":"rule","color":"#6e6e6e","strokeWidth":6,"strokeCap":"butt"},"encoding":{"x":{"field":"s","type":"quantitative","scale":{"domain":[0,1620]},"axis":null},"x2":{"field":"e"}}},
{"mark":{"type":"point","shape":"M0,0L-2,-1L-2,1Z","filled":true,"size":112,"color":"#6e6e6e","opacity":1},"encoding":{"x":{"field":"tip","type":"quantitative","scale":{"domain":[0,1620]},"axis":null}}}]}
], "spacing": 0, "bounds": "flush", "resolve": {"scale": {"color": "independent"}}}
], "spacing": 12, "resolve": {"scale": {"color": "independent"}}}
], "spacing": 0, "resolve": {"scale": {"color": "independent"}}},
{"hconcat": [
{"width":1,"height":1,"data":{"name":"spacer"},"mark":{"type":"rect","opacity":0}},
{"hconcat": [
{"vconcat": [
{"width":162,"height":14,"data":{"name":"scalebar"},"encoding":{"y":{"datum":0,"type":"quantitative","scale":{"domain":[-1,1]},"axis":{"title":"E","titleAngle":0,"titleAlign":"left","titleBaseline":"middle","titleX":-47,"titleY":5,"titleFontSize":16,"titleFontWeight":"bold","titleColor":"#000","domain":false,"ticks":false,"labels":false,"grid":false}}},"layer":[
{"mark":{"type":"rule","color":"#888","strokeWidth":1},"encoding":{"x":{"field":"s","type":"quantitative","scale":{"domain":[0,1620]},"axis":null},"x2":{"field":"e"}}},
{"mark":{"type":"tick","orient":"vertical","size":5,"thickness":1,"color":"#888"},"encoding":{"x":{"field":"s","type":"quantitative","scale":{"domain":[0,1620]},"axis":null}}},
{"mark":{"type":"tick","orient":"vertical","size":5,"thickness":1,"color":"#888"},"encoding":{"x":{"field":"e","type":"quantitative","scale":{"domain":[0,1620]},"axis":null}}},
{"mark":{"type":"text","align":"left","baseline":"middle","dx":1,"fontSize":15,"color":"#222"},"encoding":{"x":{"field":"e","type":"quantitative","scale":{"domain":[0,1620]},"axis":null},"text":{"field":"lab"}}}]},
{"width":162,"height":59,"data":{"name":"cov_HSP26_YPD"},"mark":{"type":"area","color":"#c0c0c0"},"encoding":{"x":{"field":"pos","type":"quantitative","scale":{"domain":[0,1620]},"axis":null},"y":{"field":"val","type":"quantitative","scale":{"domain":[0,0.98]},"axis":{"title":"YPD","titleFontSize":11,"titleColor":"#333","titlePadding":4,"values":[0,0.2,0.4,0.6,0.8],"format":"~g","labelFontSize":11,"labelColor":"#555","tickColor":"#999","tickSize":4,"domainColor":"#999","grid":false,"labelPadding":2}}}},
{"width":162,"height":19,"data":{"name":"nuc_HSP26_YPD"},"mark":"bar","encoding":{"x":{"field":"s","type":"quantitative","scale":{"domain":[0,1620]},"axis":null},"x2":{"field":"e"},"y":{"field":"lane","type":"ordinal","scale":{"domain":[1,2],"paddingInner":0.5,"paddingOuter":0.607},"axis":null},"color":{"field":"kind","type":"nominal","scale":{"domain":["dark","light"],"range":["#0b0bcc","#8fa5e8"]},"legend":null}}},
{"width":162,"height":62,"data":{"name":"cov_HSP26_Eth"},"mark":{"type":"area","color":"#c0c0c0"},"encoding":{"x":{"field":"pos","type":"quantitative","scale":{"domain":[0,1620]},"axis":null},"y":{"field":"val","type":"quantitative","scale":{"domain":[0,1.03]},"axis":{"title":"Ethanol","titleFontSize":11,"titleColor":"#333","titlePadding":4,"values":[0,0.2,0.4,0.6,0.8],"format":"~g","labelFontSize":11,"labelColor":"#555","tickColor":"#999","tickSize":4,"domainColor":"#999","grid":false,"labelPadding":2}}}},
{"width":162,"height":19,"data":{"name":"nuc_HSP26_Eth"},"mark":"bar","encoding":{"x":{"field":"s","type":"quantitative","scale":{"domain":[0,1620]},"axis":null},"x2":{"field":"e"},"y":{"field":"lane","type":"ordinal","scale":{"domain":[1,2],"paddingInner":0.5,"paddingOuter":0.607},"axis":null},"color":{"field":"kind","type":"nominal","scale":{"domain":["dark","light"],"range":["#0b0bcc","#8fa5e8"]},"legend":null}}},
{"width":162,"height":29,"data":{"name":"feat_HSP26"},"mark":"bar","encoding":{"x":{"field":"s","type":"quantitative","scale":{"domain":[0,1620]},"axis":null},"x2":{"field":"e"},"y":{"field":"lane","type":"ordinal","scale":{"domain":[1,2],"paddingInner":0.364,"paddingOuter":0.5},"axis":null},"color":{"field":"kind","type":"nominal","scale":{"domain":["blue","red","green","orange","purple"],"range":["#1f4ff0","#e01010","#22a83a","#e8b030","#8a20e0"]},"legend":null}}},
{"width":162,"height":9,"data":{"name":"gene_HSP26"},"encoding":{"y":{"datum":0,"type":"quantitative","scale":{"domain":[-1,1]},"axis":{"title":"HSP26","titleAngle":0,"titleAlign":"right","titleBaseline":"middle","titleX":-5,"titleY":4.5,"titleFontSize":13,"titleFontWeight":"normal","titleColor":"#111","domain":false,"ticks":false,"labels":false,"grid":false}}},"layer":[
{"mark":{"type":"rule","color":"#6e6e6e","strokeWidth":6,"strokeCap":"butt"},"encoding":{"x":{"field":"s","type":"quantitative","scale":{"domain":[0,1620]},"axis":null},"x2":{"field":"e"}}},
{"mark":{"type":"point","shape":"M0,0L-2,-1L-2,1Z","filled":true,"size":112,"color":"#6e6e6e","opacity":1},"encoding":{"x":{"field":"tip","type":"quantitative","scale":{"domain":[0,1620]},"axis":null}}}]}
], "spacing": 0, "bounds": "flush", "resolve": {"scale": {"color": "independent"}}},
{"vconcat": [
{"width":162,"height":14,"data":{"name":"scalebar"},"encoding":{"y":{"datum":0,"type":"quantitative","scale":{"domain":[-1,1]},"axis":null}},"layer":[
{"mark":{"type":"rule","color":"#888","strokeWidth":1},"encoding":{"x":{"field":"s","type":"quantitative","scale":{"domain":[0,1620]},"axis":null},"x2":{"field":"e"}}},
{"mark":{"type":"tick","orient":"vertical","size":5,"thickness":1,"color":"#888"},"encoding":{"x":{"field":"s","type":"quantitative","scale":{"domain":[0,1620]},"axis":null}}},
{"mark":{"type":"tick","orient":"vertical","size":5,"thickness":1,"color":"#888"},"encoding":{"x":{"field":"e","type":"quantitative","scale":{"domain":[0,1620]},"axis":null}}},
{"mark":{"type":"text","align":"left","baseline":"middle","dx":1,"fontSize":15,"color":"#222"},"encoding":{"x":{"field":"e","type":"quantitative","scale":{"domain":[0,1620]},"axis":null},"text":{"field":"lab"}}}]},
{"width":162,"height":59,"data":{"name":"cov_HXK1_YPD"},"mark":{"type":"area","color":"#c0c0c0"},"encoding":{"x":{"field":"pos","type":"quantitative","scale":{"domain":[0,1620]},"axis":null},"y":{"field":"val","type":"quantitative","scale":{"domain":[0,0.98]},"axis":{"title":"YPD","titleFontSize":11,"titleColor":"#333","titlePadding":4,"values":[0,0.2,0.4,0.6,0.8],"format":"~g","labelFontSize":11,"labelColor":"#555","tickColor":"#999","tickSize":4,"domainColor":"#999","grid":false,"labelPadding":2}}}},
{"width":162,"height":19,"data":{"name":"nuc_HXK1_YPD"},"mark":"bar","encoding":{"x":{"field":"s","type":"quantitative","scale":{"domain":[0,1620]},"axis":null},"x2":{"field":"e"},"y":{"field":"lane","type":"ordinal","scale":{"domain":[1,2],"paddingInner":0.5,"paddingOuter":0.607},"axis":null},"color":{"field":"kind","type":"nominal","scale":{"domain":["dark","light"],"range":["#0b0bcc","#8fa5e8"]},"legend":null}}},
{"width":162,"height":62,"data":{"name":"cov_HXK1_Eth"},"mark":{"type":"area","color":"#c0c0c0"},"encoding":{"x":{"field":"pos","type":"quantitative","scale":{"domain":[0,1620]},"axis":null},"y":{"field":"val","type":"quantitative","scale":{"domain":[0,1.03]},"axis":{"title":"Ethanol","titleFontSize":11,"titleColor":"#333","titlePadding":4,"values":[0,0.2,0.4,0.6,0.8],"format":"~g","labelFontSize":11,"labelColor":"#555","tickColor":"#999","tickSize":4,"domainColor":"#999","grid":false,"labelPadding":2}}}},
{"width":162,"height":19,"data":{"name":"nuc_HXK1_Eth"},"mark":"bar","encoding":{"x":{"field":"s","type":"quantitative","scale":{"domain":[0,1620]},"axis":null},"x2":{"field":"e"},"y":{"field":"lane","type":"ordinal","scale":{"domain":[1,2],"paddingInner":0.5,"paddingOuter":0.607},"axis":null},"color":{"field":"kind","type":"nominal","scale":{"domain":["dark","light"],"range":["#0b0bcc","#8fa5e8"]},"legend":null}}},
{"width":162,"height":29,"data":{"name":"feat_HXK1"},"mark":"bar","encoding":{"x":{"field":"s","type":"quantitative","scale":{"domain":[0,1620]},"axis":null},"x2":{"field":"e"},"y":{"field":"lane","type":"ordinal","scale":{"domain":[1,2],"paddingInner":0.364,"paddingOuter":0.5},"axis":null},"color":{"field":"kind","type":"nominal","scale":{"domain":["blue","red","green","orange","purple"],"range":["#1f4ff0","#e01010","#22a83a","#e8b030","#8a20e0"]},"legend":null}}},
{"width":162,"height":9,"data":{"name":"gene_HXK1"},"encoding":{"y":{"datum":0,"type":"quantitative","scale":{"domain":[-1,1]},"axis":{"title":"HXK1","titleAngle":0,"titleAlign":"right","titleBaseline":"middle","titleX":-8,"titleY":4.5,"titleFontSize":13,"titleFontWeight":"normal","titleColor":"#111","domain":false,"ticks":false,"labels":false,"grid":false}}},"layer":[
{"mark":{"type":"rule","color":"#6e6e6e","strokeWidth":6,"strokeCap":"butt"},"encoding":{"x":{"field":"s","type":"quantitative","scale":{"domain":[0,1620]},"axis":null},"x2":{"field":"e"}}},
{"mark":{"type":"point","shape":"M0,0L2,-1L2,1Z","filled":true,"size":112,"color":"#6e6e6e","opacity":1},"encoding":{"x":{"field":"tip","type":"quantitative","scale":{"domain":[0,1620]},"axis":null}}}]}
], "spacing": 0, "bounds": "flush", "resolve": {"scale": {"color": "independent"}}},
{"vconcat": [
{"width":162,"height":14,"data":{"name":"scalebar"},"encoding":{"y":{"datum":0,"type":"quantitative","scale":{"domain":[-1,1]},"axis":null}},"layer":[
{"mark":{"type":"rule","color":"#888","strokeWidth":1},"encoding":{"x":{"field":"s","type":"quantitative","scale":{"domain":[0,1620]},"axis":null},"x2":{"field":"e"}}},
{"mark":{"type":"tick","orient":"vertical","size":5,"thickness":1,"color":"#888"},"encoding":{"x":{"field":"s","type":"quantitative","scale":{"domain":[0,1620]},"axis":null}}},
{"mark":{"type":"tick","orient":"vertical","size":5,"thickness":1,"color":"#888"},"encoding":{"x":{"field":"e","type":"quantitative","scale":{"domain":[0,1620]},"axis":null}}},
{"mark":{"type":"text","align":"left","baseline":"middle","dx":1,"fontSize":15,"color":"#222"},"encoding":{"x":{"field":"e","type":"quantitative","scale":{"domain":[0,1620]},"axis":null},"text":{"field":"lab"}}}]},
{"width":162,"height":59,"data":{"name":"cov_HSP12_YPD"},"mark":{"type":"area","color":"#c0c0c0"},"encoding":{"x":{"field":"pos","type":"quantitative","scale":{"domain":[0,1620]},"axis":null},"y":{"field":"val","type":"quantitative","scale":{"domain":[0,0.98]},"axis":{"title":"YPD","titleFontSize":11,"titleColor":"#333","titlePadding":4,"values":[0,0.2,0.4,0.6,0.8],"format":"~g","labelFontSize":11,"labelColor":"#555","tickColor":"#999","tickSize":4,"domainColor":"#999","grid":false,"labelPadding":2}}}},
{"width":162,"height":19,"data":{"name":"nuc_HSP12_YPD"},"mark":"bar","encoding":{"x":{"field":"s","type":"quantitative","scale":{"domain":[0,1620]},"axis":null},"x2":{"field":"e"},"y":{"field":"lane","type":"ordinal","scale":{"domain":[1,2],"paddingInner":0.5,"paddingOuter":0.607},"axis":null},"color":{"field":"kind","type":"nominal","scale":{"domain":["dark","light"],"range":["#0b0bcc","#8fa5e8"]},"legend":null}}},
{"width":162,"height":62,"data":{"name":"cov_HSP12_Eth"},"mark":{"type":"area","color":"#c0c0c0"},"encoding":{"x":{"field":"pos","type":"quantitative","scale":{"domain":[0,1620]},"axis":null},"y":{"field":"val","type":"quantitative","scale":{"domain":[0,1.03]},"axis":{"title":"Ethanol","titleFontSize":11,"titleColor":"#333","titlePadding":4,"values":[0,0.2,0.4,0.6,0.8],"format":"~g","labelFontSize":11,"labelColor":"#555","tickColor":"#999","tickSize":4,"domainColor":"#999","grid":false,"labelPadding":2}}}},
{"width":162,"height":19,"data":{"name":"nuc_HSP12_Eth"},"mark":"bar","encoding":{"x":{"field":"s","type":"quantitative","scale":{"domain":[0,1620]},"axis":null},"x2":{"field":"e"},"y":{"field":"lane","type":"ordinal","scale":{"domain":[1,2],"paddingInner":0.5,"paddingOuter":0.607},"axis":null},"color":{"field":"kind","type":"nominal","scale":{"domain":["dark","light"],"range":["#0b0bcc","#8fa5e8"]},"legend":null}}},
{"width":162,"height":29,"data":{"name":"feat_HSP12"},"mark":"bar","encoding":{"x":{"field":"s","type":"quantitative","scale":{"domain":[0,1620]},"axis":null},"x2":{"field":"e"},"y":{"field":"lane","type":"ordinal","scale":{"domain":[1,2],"paddingInner":0.364,"paddingOuter":0.5},"axis":null},"color":{"field":"kind","type":"nominal","scale":{"domain":["blue","red","green","orange","purple"],"range":["#1f4ff0","#e01010","#22a83a","#e8b030","#8a20e0"]},"legend":null}}},
{"width":162,"height":9,"data":{"name":"gene_HSP12"},"encoding":{"y":{"datum":0,"type":"quantitative","scale":{"domain":[-1,1]},"axis":{"title":"HSP12","titleAngle":0,"titleAlign":"right","titleBaseline":"middle","titleX":13,"titleY":4.5,"titleFontSize":13,"titleFontWeight":"normal","titleColor":"#111","domain":false,"ticks":false,"labels":false,"grid":false}}},"layer":[
{"mark":{"type":"rule","color":"#6e6e6e","strokeWidth":6,"strokeCap":"butt"},"encoding":{"x":{"field":"s","type":"quantitative","scale":{"domain":[0,1620]},"axis":null},"x2":{"field":"e"}}},
{"mark":{"type":"point","shape":"M0,0L-2,-1L-2,1Z","filled":true,"size":112,"color":"#6e6e6e","opacity":1},"encoding":{"x":{"field":"tip","type":"quantitative","scale":{"domain":[0,1620]},"axis":null}}}]}
], "spacing": 0, "bounds": "flush", "resolve": {"scale": {"color": "independent"}}}
], "spacing": 12, "resolve": {"scale": {"color": "independent"}}}
], "spacing": 0, "resolve": {"scale": {"color": "independent"}}}
],
"columns": 1,
"align": "none",
"spacing": 12,
"resolve": {"scale": {"color": "independent"}}
}
